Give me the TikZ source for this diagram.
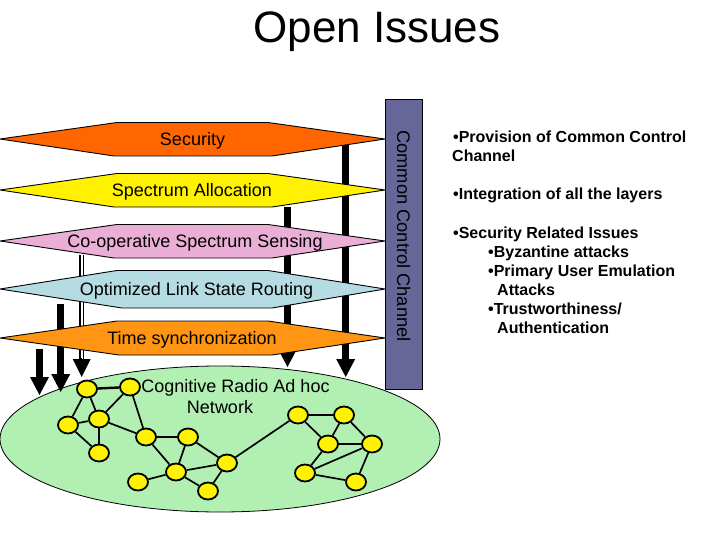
\documentclass[tikz,border=0pt]{standalone}
\usepackage{fontspec}
\setmainfont{Liberation Sans}
\usetikzlibrary{arrows.meta,shapes.geometric}
\tikzset{
  x=1pt,y=-1pt,
  layer/.style={draw=black,line width=0.9pt,line join=miter,miter limit=2},
  lab/.style={anchor=base,inner sep=0pt,font=\fontsize{18}{21.6}\selectfont},
  note/.style={anchor=base west,inner sep=0pt,font=\fontsize{16}{19.2}\selectfont\bfseries},
  radio/.style={ellipse,draw=black,fill=yellow,line width=1.8pt,minimum width=20pt,minimum height=17pt,inner sep=0pt},
  link/.style={draw=black,line width=1.7pt},
  heavy/.style={draw=black,line width=2.4pt},
  bigarrow/.style={draw=black,line width=7pt,-{Triangle[length=18pt,width=19pt,line width=0pt]}},
  tiponly/.style={draw=black,line width=1pt,-{Triangle[length=18pt,width=18pt,line width=0pt]}},
  dblshaft/.style={draw=black,line width=1.4pt,double=white,double distance=2pt},
}
\definecolor{secorange}{HTML}{FF6600}
\definecolor{pinklayer}{HTML}{EBAFD7}
\definecolor{bluelayer}{HTML}{B5DCE3}
\definecolor{timeorange}{HTML}{FF9512}
\definecolor{netgreen}{HTML}{B2EFB2}
\definecolor{chan}{HTML}{666699}
\begin{document}
\begin{tikzpicture}
\useasboundingbox (0,0) rectangle (720,540);
\fill[white] (0,0) rectangle (720,540);
\node[lab,font=\fontsize{44}{50}\selectfont] (title) at (377,42.5) {Open Issues};
% network
\node[ellipse,draw=black,line width=0.8pt,fill=netgreen,minimum width=440pt,minimum height=146pt,inner sep=0pt] (net) at (220,439) {};
% channel bar
\node[draw=black,line width=0.9pt,fill=chan,minimum width=37pt,minimum height=290pt,inner sep=0pt] (bar) at (404,244) {};
\node[lab,rotate=-90,font=\fontsize{18.3}{22}\selectfont] (barlab) at (397,236) {Common Control Channel};
% arrows
\coordinate (a1s) at (39.5,349); \coordinate (a1e) at (39.5,395);
\coordinate (a2s) at (60.7,304); \coordinate (a2e) at (60.7,392);
\coordinate (a3s) at (81.7,255); \coordinate (a3h) at (81.7,359); \coordinate (a3g) at (81.7,358); \coordinate (a3e) at (81.7,377);
\coordinate (a4s) at (287.5,207); \coordinate (a4e) at (287.5,367);
\coordinate (a5s) at (345.7,140); \coordinate (a5e) at (345.7,377);
\draw[bigarrow] (a1s) -- (a1e);
\draw[bigarrow] (a2s) -- (a2e);
\draw[dblshaft] (a3s) -- (a3h);
\draw[tiponly] (a3g) -- (a3e);
\draw[bigarrow] (a4s) -- (a4e);
\draw[bigarrow] (a5s) -- (a5e);
% layers
\draw[layer,fill=secorange] (0,139) -- (117,122.5) -- (268,122.5) -- (385,139) -- (272,156) -- (114,156) -- cycle;
\draw[layer,fill=yellow] (0,190) -- (117,173.5) -- (268,173.5) -- (385,190) -- (272,207) -- (114,207) -- cycle;
\draw[layer,fill=pinklayer] (0,241) -- (117,224.5) -- (268,224.5) -- (385,241) -- (272,258) -- (114,258) -- cycle;
\draw[layer,fill=bluelayer] (0,289) -- (117,270.5) -- (268,270.5) -- (385,289) -- (272,308) -- (122,308) -- cycle;
\draw[layer,fill=timeorange] (0,338) -- (117,321) -- (268,321) -- (385,338) -- (272,355) -- (119,355) -- cycle;
\node[lab] (lsec) at (192.5,146) {Security};
\node[lab] (lspe) at (192,196.5) {Spectrum Allocation};
\node[lab] (lcoo) at (195,247.5) {Co-operative Spectrum Sensing};
\node[lab] (lopt) at (196.5,295.5) {Optimized Link State Routing};
\node[lab] (ltim) at (192,344.5) {Time synchronization};
\node[lab] (lcog) at (235.5,392) {Cognitive Radio Ad hoc};
\node[lab] (lnet) at (220,413.5) {Network};
% radios
\foreach \n/\px/\py in {A/87/389,B/130/387,C/68/425,D/99/419,E/99/453,F/146/437,G/188/437,H/176/472,I/138/482,J/208/491,K/227/463,L/298/415,M/344/415,N/328/444,O/372/444,P/305/473,Q/356/482}
  \node[radio] (\n) at (\px,\py) {};
\foreach \p/\q in {A/C,A/D,B/D,C/D,C/E,D/E,D/F,B/F,F/G,F/H,G/H,G/K,H/K,H/I,H/J,J/K,K/L,L/M,L/N,M/N,M/O,N/P,O/P,O/Q,P/Q}
  \draw[link] (\p) -- (\q);
\draw[heavy] (A) -- (B);
\draw[heavy] (N) -- (O);
% notes
\node[note] (n1) at (453,143) {•Provision of Common Control};
\node[note] (n2) at (452,161.5) {Channel};
\node[note] (n3) at (453,200) {•Integration of all the layers};
\node[note] (n4) at (453,238.5) {•Security Related Issues};
\node[note] (n5) at (488,257.5) {•Byzantine attacks};
\node[note] (n6) at (488,276.5) {•Primary User Emulation};
\node[note] (n7) at (497,295.5) {Attacks};
\node[note] (n8) at (488,314.5) {•Trustworthiness/};
\node[note] (n9) at (497,333.5) {Authentication};
\end{tikzpicture}
\end{document}
